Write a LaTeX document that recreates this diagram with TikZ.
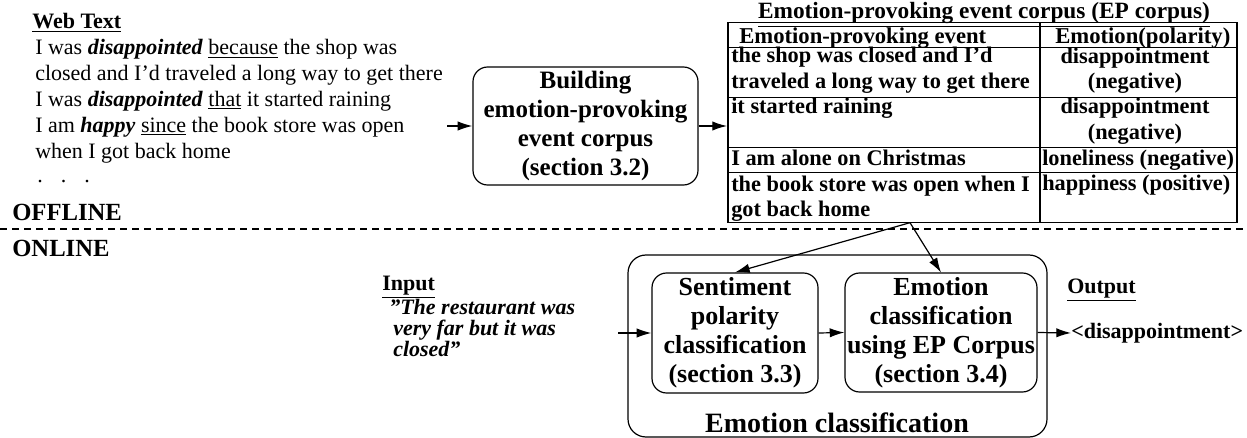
\documentclass[tikz,border=0pt]{standalone}
\usepackage{fontspec}
\setmainfont{Liberation Serif}
\usetikzlibrary{arrows.meta}

\begin{document}
\begin{tikzpicture}[x=0.75pt,y=0.75pt,yscale=-1,xscale=1,
  arr/.style={-{Latex[length=11pt,width=7pt]}, line width=0.9pt},
  proc/.style={draw, line width=0.9pt, rounded corners=11pt, align=center, inner sep=0pt},
  webtxt/.style={anchor=base west, inner sep=0pt, font=\fontsize{16.5}{19}\selectfont},
  tabtxt/.style={inner sep=0pt, font=\bfseries\fontsize{16.75}{19}\selectfont},
  tabline/.style={line width=1.1pt},
  lbl/.style={anchor=base west, inner sep=0pt, font=\bfseries\fontsize{16.5}{19}\selectfont}]
\useasboundingbox (0,0) rectangle (1247,438);

%Web text
\node[lbl] (webhd) at (32,29) {\underline{Web Text}};
\foreach \ln [count=\i] in {{I was \textbf{\textit{disappointed}} \underline{because} the shop was},
  {closed and I’d traveled a long way to get there},
  {I was \textbf{\textit{disappointed}} \underline{that} it started raining},
  {I am \textbf{\textit{happy}} \underline{since} the book store was open},
  {when I got back home}}
  \node[webtxt] (web\i) at (35,29.2+25.8*\i) {\ln};
\node[webtxt] (webdots) at (37,183) {.\hspace{13.5pt}.\hspace{13.5pt}.};
\coordinate (webout) at (447,126);

%Rounded Rect
\node[proc, minimum width=168.75pt, minimum height=88.5pt,
  font=\bfseries\fontsize{18.75}{21.75}\selectfont] (build) at (585.5,126)
  {Building\\emotion-provoking\\event corpus\\(section 3.2)};

%Table
\coordinate (tabin) at (727,126);
\coordinate (tabout) at (910,222.7);
\draw[tabline] (728,22.7) rectangle (1237,222.7);
\draw[tabline] (1040,22.7) -- (1040,222.7);
\foreach \y in {47.3,97.7,147.7,172.3}
  \draw[tabline] (728,\y) -- (1237,\y);
\node[tabtxt, anchor=base, font=\bfseries\fontsize{17.5}{19}\selectfont] (tabtitle) at (984,19)
  {\underline{Emotion-provoking event corpus (EP corpus)}};
\node[tabtxt, anchor=base west, font=\bfseries\fontsize{17}{19}\selectfont] (hdevt) at (739,44) {Emotion-provoking event};
\node[tabtxt, anchor=base west, font=\bfseries\fontsize{17}{19}\selectfont] (hdemo) at (1055,44) {Emotion(polarity)};
\foreach \ln/\y [count=\i] in {{the shop was closed and I’d}/62.3, {traveled a long way to get there}/88.3,
  {it started raining}/113.3, {I am alone on Christmas}/165.7,
  {the book store was open when I}/191.7, {got back home}/216.7}
  \node[tabtxt, anchor=base west] (evt\i) at (731,\y) {\ln};
\foreach \ln/\y [count=\i] in {disappointment/63.3, (negative)/88.3, disappointment/113.3, (negative)/139.3}
  \node[tabtxt, anchor=base] (emo\i) at (1135,\y) {\ln};
\node[tabtxt, anchor=base west] (emo5) at (1042,165.7) {loneliness (negative)};
\node[tabtxt, anchor=base west] (emo6) at (1042,191) {happiness (positive)};

%Straight Lines
\draw[arr] (webout) -- (build.west);
\draw[arr] (build.east) -- (tabin);

%Dashed Lines
\draw[line width=0.8pt, dash pattern=on 5.5pt off 3.5pt] (0,229) -- (1247,229);
\node[lbl, font=\bfseries\fontsize{18.5}{20}\selectfont] (offl) at (12,221) {OFFLINE};
\node[lbl, font=\bfseries\fontsize{18.5}{20}\selectfont] (onl) at (12,257) {ONLINE};

%Online part
\node[draw, line width=0.9pt, rounded corners=13.5pt, minimum width=314.25pt, minimum height=136.5pt] (ecls) at (837.5,346) {};
\node[inner sep=0pt, font=\bfseries\fontsize{21}{24}\selectfont] (eclslbl) at (837,423) {Emotion classification};
\node[proc, minimum width=124.5pt, minimum height=90pt,
  font=\bfseries\fontsize{19.5}{21.75}\selectfont] (senti) at (735,333)
  {Sentiment\\polarity\\classification\\(section 3.3)};
\node[proc, minimum width=144pt, minimum height=89.25pt,
  font=\bfseries\fontsize{19.5}{21.75}\selectfont] (emo) at (941,332.5)
  {Emotion\\classification\\using EP Corpus\\(section 3.4)};

\node[lbl] (inplbl) at (382,291) {\underline{Input}};
\foreach \ln/\x/\y [count=\i] in {{”The restaurant was}/389/315, {very far but it was}/393/336, {closed”}/393/357}
  \node[lbl, font=\bfseries\itshape\fontsize{16.5}{19}\selectfont] (quote\i) at (\x,\y) {\ln};
\coordinate (inpin) at (618,333);

\node[lbl] (outlbl) at (1067,294) {\underline{Output}};
\node[lbl, anchor=west] (outp) at (1071,333) {<disappointment>};

\draw[arr] (inpin) -- (senti.west);
\draw[arr] (senti.east) -- (emo.west);
\draw[arr] (emo.east) -- (outp.west);
\draw[arr] (tabout) -- (senti.north);
\draw[arr] (tabout) -- (emo.north);

\end{tikzpicture}
\end{document}
